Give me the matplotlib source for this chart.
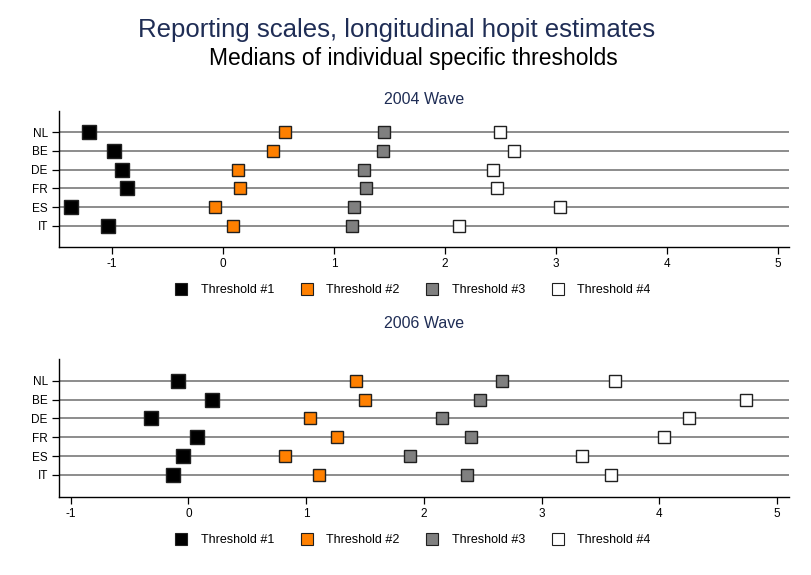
import matplotlib
matplotlib.use("Agg")
import matplotlib.pyplot as plt
from matplotlib.lines import Line2D

plt.rcParams['font.family'] = ['Liberation Sans', 'DejaVu Sans']

countries = ["NL", "BE", "DE", "FR", "ES", "IT"]
thr_labels = ["Threshold #1", "Threshold #2", "Threshold #3", "Threshold #4"]
thr_colors = ["#000000", "#FF8000", "#808080", "#FFFFFF"]

# 2004 wave (rows NL..IT)
w2004_t1 = [-1.21, -0.98, -0.91, -0.87, -1.37, -1.04]
w2004_t2 = [0.56, 0.45, 0.13, 0.15, -0.07, 0.09]
w2004_t3 = [1.45, 1.44, 1.27, 1.29, 1.18, 1.16]
w2004_t4 = [2.50, 2.62, 2.43, 2.47, 3.04, 2.13]

# 2006 wave
w2006_t1 = [-0.09, 0.20, -0.32, 0.07, -0.05, -0.13]
w2006_t2 = [1.42, 1.50, 1.03, 1.26, 0.82, 1.11]
w2006_t3 = [2.66, 2.48, 2.15, 2.40, 1.88, 2.37]
w2006_t4 = [3.62, 4.74, 4.25, 4.04, 3.34, 3.59]

xticks = [-1, 0, 1, 2, 3, 4, 5]
navy = "#1F2D55"

fig = plt.figure(figsize=(8.11, 5.75), dpi=100)
fig.patch.set_facecolor("white")

fig.text(0.4895, 0.948, "Reporting scales, longitudinal hopit estimates",
         ha="center", va="center", fontsize=18.5, color=navy)
fig.text(0.5095, 0.898, "Medians of individual specific thresholds",
         ha="center", va="center", fontsize=16.5, color="black")

panels = [
    ("2004 Wave", [w2004_t1, w2004_t2, w2004_t3, w2004_t4], (-1.48, 5.10),
     [0.0727, 0.570, 0.900, 0.2375], 1 - 290 / 575, 1 - 99 / 575),
    ("2006 Wave", [w2006_t1, w2006_t2, w2006_t3, w2006_t4], (-1.10, 5.10),
     [0.0727, 0.1362, 0.900, 0.2395], 1 - 540 / 575, 1 - 324 / 575),
]

ypos = list(range(len(countries), 0, -1))

for title, series, xl, rect, leg_y, title_y in panels:
    ax = fig.add_axes(rect)
    for y in ypos:
        ax.axhline(y, color="#8C8C8C", lw=1.4, zorder=1)
    for vals, col in zip(series, thr_colors):
        ms = 9.8 if col == "#000000" else 9.0
        ax.plot(vals, ypos, ls="none", marker="s", ms=ms, mfc=col,
                mec="#202020", mew=1.0, zorder=3)
    ax.set_xlim(*xl)
    ax.set_ylim(-0.15, 7.15)
    ax.set_yticks(ypos)
    ax.set_yticklabels(countries)
    ax.set_xticks(xticks)
    ax.set_xticklabels([str(t) for t in xticks])
    for s in ["top", "right"]:
        ax.spines[s].set_visible(False)
    for s in ["left", "bottom"]:
        ax.spines[s].set_linewidth(1.0)
        ax.spines[s].set_color("black")
    ax.tick_params(axis="both", length=5, width=0.9, labelsize=8.5, colors="black")
    ax.tick_params(axis="x", pad=3)
    ax.tick_params(axis="y", pad=3)
    fig.text(0.523, title_y, title, ha="center", va="center", fontsize=11.5, color=navy)

    handles = [Line2D([], [], ls="none", marker="s", ms=9.0, mfc=c, mec="#202020", mew=0.8)
               for c in thr_colors]
    fig.legend(handles, thr_labels, loc="center", bbox_to_anchor=(0.509, leg_y),
               ncol=4, frameon=False, fontsize=9, handletextpad=1.08, columnspacing=2.1,
               handlelength=1.0)

fig.savefig("out.png", dpi=100, facecolor="white")
